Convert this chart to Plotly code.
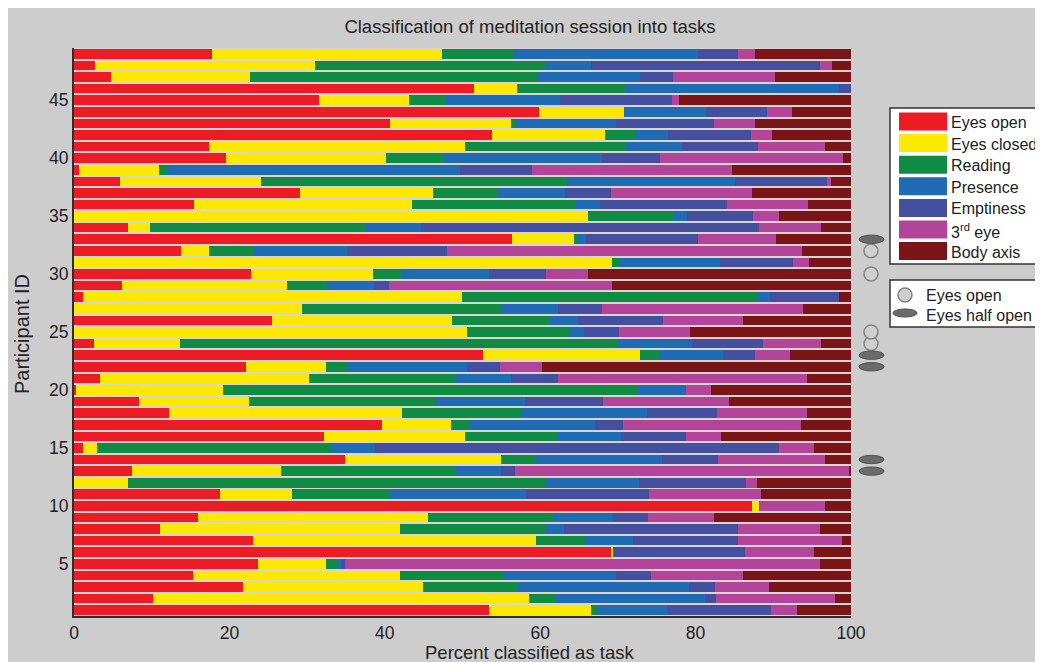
import plotly.graph_objects as go

# ---------------- data ----------------
participants = list(range(1, 50))

eyes_open = [53.4, 10.2, 21.7, 15.3, 23.7, 69.1, 23.1, 11.1, 15.9, 87.2,
             18.8, 0.0, 7.5, 34.9, 1.1, 32.2, 39.6, 12.2, 8.4, 0.3,
             3.3, 22.1, 52.6, 2.6, 0.0, 25.5, 0.0, 1.2, 6.2, 22.8,
             0.0, 13.8, 56.4, 6.9, 0.0, 15.4, 29.1, 5.9, 0.6, 19.6,
             17.4, 53.8, 40.7, 59.8, 31.5, 51.5, 4.8, 2.7, 17.8]
eyes_closed = [13.1, 48.3, 23.2, 26.6, 8.7, 0.3, 36.4, 30.9, 29.7, 1.0,
               9.3, 6.9, 19.2, 20.0, 1.9, 18.1, 8.9, 30.0, 14.1, 18.9,
               26.9, 10.3, 20.2, 11.0, 50.6, 23.2, 29.3, 48.7, 21.2, 15.7,
               69.2, 3.6, 8.0, 2.9, 66.1, 28.1, 17.1, 18.2, 10.3, 20.6,
               32.9, 14.5, 15.5, 11.0, 11.6, 5.5, 17.8, 28.3, 29.6]
reading = [0.8, 3.5, 12.1, 13.4, 1.4, 0.0, 6.3, 18.6, 16.0, 0.1,
           12.4, 53.7, 22.5, 4.4, 30.1, 12.0, 2.3, 15.4, 24.0, 53.2,
           19.0, 2.9, 2.5, 56.4, 13.2, 12.6, 25.8, 38.0, 5.2, 3.7,
           1.1, 5.6, 0.5, 27.6, 11.1, 21.0, 8.4, 39.3, 1.1, 7.4,
           20.6, 3.9, 0.5, 0.0, 4.7, 14.1, 37.0, 29.7, 9.1]
presence = [9.0, 19.2, 22.1, 14.4, 0.6, 0.0, 6.1, 2.5, 7.8, 0.0,
            17.7, 12.1, 5.8, 16.4, 5.7, 8.1, 16.2, 16.1, 11.6, 6.3,
            7.1, 15.3, 8.2, 9.6, 1.8, 3.6, 7.2, 1.7, 6.0, 11.2,
            12.9, 12.1, 1.0, 7.2, 1.7, 3.2, 8.6, 21.7, 37.7, 20.4,
            7.4, 4.2, 13.0, 10.6, 14.8, 27.4, 13.3, 5.8, 23.8]
emptiness = [13.4, 1.4, 3.4, 4.6, 0.5, 17.0, 13.6, 22.4, 4.5, 0.0,
             15.8, 13.8, 1.8, 7.2, 51.9, 8.4, 3.7, 9.1, 10.0, 0.0,
             6.0, 4.2, 4.2, 9.1, 4.6, 10.9, 5.7, 8.9, 1.9, 7.4,
             9.3, 12.9, 14.4, 43.6, 8.5, 16.3, 5.9, 11.8, 9.2, 7.4,
             9.7, 10.7, 12.7, 7.8, 14.4, 1.5, 4.2, 29.5, 5.1]
third_eye = [3.3, 15.4, 6.9, 11.8, 61.1, 8.8, 13.3, 10.5, 8.5, 8.4,
             14.4, 1.4, 42.9, 13.7, 4.5, 4.5, 22.9, 11.5, 16.2, 3.3,
             32.0, 5.4, 4.5, 7.5, 9.1, 10.3, 25.8, 0.0, 28.7, 5.4,
             2.1, 45.7, 10.1, 7.9, 3.3, 10.5, 18.1, 0.5, 25.8, 23.6,
             8.7, 2.7, 5.2, 3.2, 0.8, 0.0, 13.1, 1.6, 2.3]
body_axis = [7.0, 2.0, 10.6, 13.9, 4.0, 4.8, 1.2, 4.0, 17.6, 3.3,
             11.6, 12.1, 0.3, 3.4, 4.8, 16.7, 6.4, 5.7, 15.7, 18.0,
             5.7, 39.8, 7.8, 3.8, 20.7, 13.9, 6.2, 1.5, 30.8, 33.8,
             5.4, 6.3, 9.6, 3.9, 9.3, 5.5, 12.8, 2.6, 15.3, 1.0,
             3.3, 10.2, 12.4, 7.6, 22.2, 0.0, 9.8, 2.4, 12.3]

task_names = ["Eyes open", "Eyes closed", "Reading", "Presence",
              "Emptiness", "3<sup>rd</sup> eye", "Body axis"]
task_values = [eyes_open, eyes_closed, reading, presence,
               emptiness, third_eye, body_axis]

eyes_open_rows = [24, 25, 30, 32]
eyes_half_open_rows = [13, 14, 22, 23, 33]

x_ticks = [0, 20, 40, 60, 80, 100]
y_ticks = [5, 10, 15, 20, 25, 30, 35, 40, 45]

# ---------------- style ----------------
colors = ["#ED1C24", "#FDE900", "#108B43", "#1F6BB4",
          "#44509F", "#B4449A", "#7B1416"]
FONT = "Liberation Sans, Arial, sans-serif"
TXT = "#222222"
SCREEN_W, SCREEN_H = 1043, 662
OFF = 8                          # page body margin
W, H = SCREEN_W - OFF, SCREEN_H - OFF
L, R, T, B = 74, 851, 48, 616    # plot area in screen pixels


def xp(px):
    return (px - L) / (R - L)


def yp(py):
    return (B - py) / (B - T)


fig = go.Figure()
for name, vals, col in zip(task_names, task_values, colors):
    fig.add_trace(go.Bar(
        y=participants, x=vals, orientation="h", name=name,
        marker=dict(color=col, line=dict(width=0)), showlegend=False))

shapes = []
# eye-state markers next to the bars
for r in eyes_open_rows:
    shapes.append(dict(type="circle", xref="paper", yref="y",
                       x0=xp(864), x1=xp(878), y0=r - 0.6, y1=r + 0.6,
                       fillcolor="#cfcfcf", line=dict(color="#858585", width=1.5)))
for r in eyes_half_open_rows:
    shapes.append(dict(type="circle", xref="paper", yref="y",
                       x0=xp(859), x1=xp(884), y0=r - 0.36, y1=r + 0.36,
                       fillcolor="#6b6b6b", line=dict(color="#505050", width=1)))

annotations = []
# legend 1
shapes.append(dict(type="rect", xref="paper", yref="paper", x0=xp(890), x1=xp(1036),
                   y0=yp(264), y1=yp(108), fillcolor="white",
                   line=dict(color="#333333", width=1.5)))
for i, (name, col) in enumerate(zip(task_names, colors)):
    cy = 121.5 + i * 21.6
    shapes.append(dict(type="rect", xref="paper", yref="paper", x0=xp(899), x1=xp(947),
                       y0=yp(cy + 9), y1=yp(cy - 9), fillcolor=col, line=dict(width=0)))
    annotations.append(dict(text=name, xref="paper", yref="paper", x=xp(949), y=yp(cy + 1),
                            xanchor="left", yanchor="middle", showarrow=False,
                            font=dict(family=FONT, size=16, color=TXT)))

# legend 2
shapes.append(dict(type="rect", xref="paper", yref="paper", x0=xp(890), x1=xp(1036),
                   y0=yp(327), y1=yp(280), fillcolor="white",
                   line=dict(color="#333333", width=1.5)))
shapes.append(dict(type="circle", xref="paper", yref="paper", x0=xp(898), x1=xp(912),
                   y0=yp(302), y1=yp(288), fillcolor="#cfcfcf",
                   line=dict(color="#858585", width=1.5)))
shapes.append(dict(type="circle", xref="paper", yref="paper", x0=xp(893), x1=xp(917),
                   y0=yp(317), y1=yp(309), fillcolor="#6b6b6b",
                   line=dict(color="#505050", width=1)))
for txt, ty in [("Eyes open", 295), ("Eyes half open", 315)]:
    annotations.append(dict(text=txt, xref="paper", yref="paper", x=xp(924), y=yp(ty),
                            xanchor="left", yanchor="middle", showarrow=False,
                            font=dict(family=FONT, size=16, color=TXT)))

# axis titles
annotations.append(dict(text="Percent classified as task", xref="paper", yref="paper",
                        x=xp(529), y=yp(652), xanchor="center", yanchor="middle",
                        showarrow=False, font=dict(family=FONT, size=18.5, color=TXT)))
annotations.append(dict(text="Participant ID", xref="paper", yref="paper",
                        x=xp(22), y=yp(334), xanchor="center", yanchor="middle",
                        textangle=-90, showarrow=False,
                        font=dict(family=FONT, size=20, color=TXT)))

fig.update_layout(
    width=W, height=H, autosize=False,
    margin=dict(l=L - OFF, r=SCREEN_W - R, t=T - OFF, b=SCREEN_H - B, pad=0),
    paper_bgcolor="#cdcdcd", plot_bgcolor="#dcd3d3",
    barmode="stack", bargap=0.17,
    font=dict(family=FONT, size=16, color=TXT),
    title=dict(text="Classification of meditation session into tasks",
               x=(530 - OFF) / W, y=1 - (27 - OFF) / H, xref="container", yref="container",
               xanchor="center", yanchor="middle",
               font=dict(family=FONT, size=18.5, color=TXT)),
    xaxis=dict(range=[0, 100], tickvals=x_ticks, showgrid=False, zeroline=False,
               showline=True, linecolor="#2e2e2e", linewidth=2, ticks="",
               tickfont=dict(family=FONT, size=17.5, color=TXT), fixedrange=True),
    yaxis=dict(range=[0.5, 49.5], tickvals=y_ticks, showgrid=False, zeroline=False,
               showline=True, linecolor="#2e2e2e", linewidth=2, ticks="",
               tickfont=dict(family=FONT, size=17.5, color=TXT), fixedrange=True),
    shapes=shapes, annotations=annotations, showlegend=False,
)

fig.write_html("out.html")
